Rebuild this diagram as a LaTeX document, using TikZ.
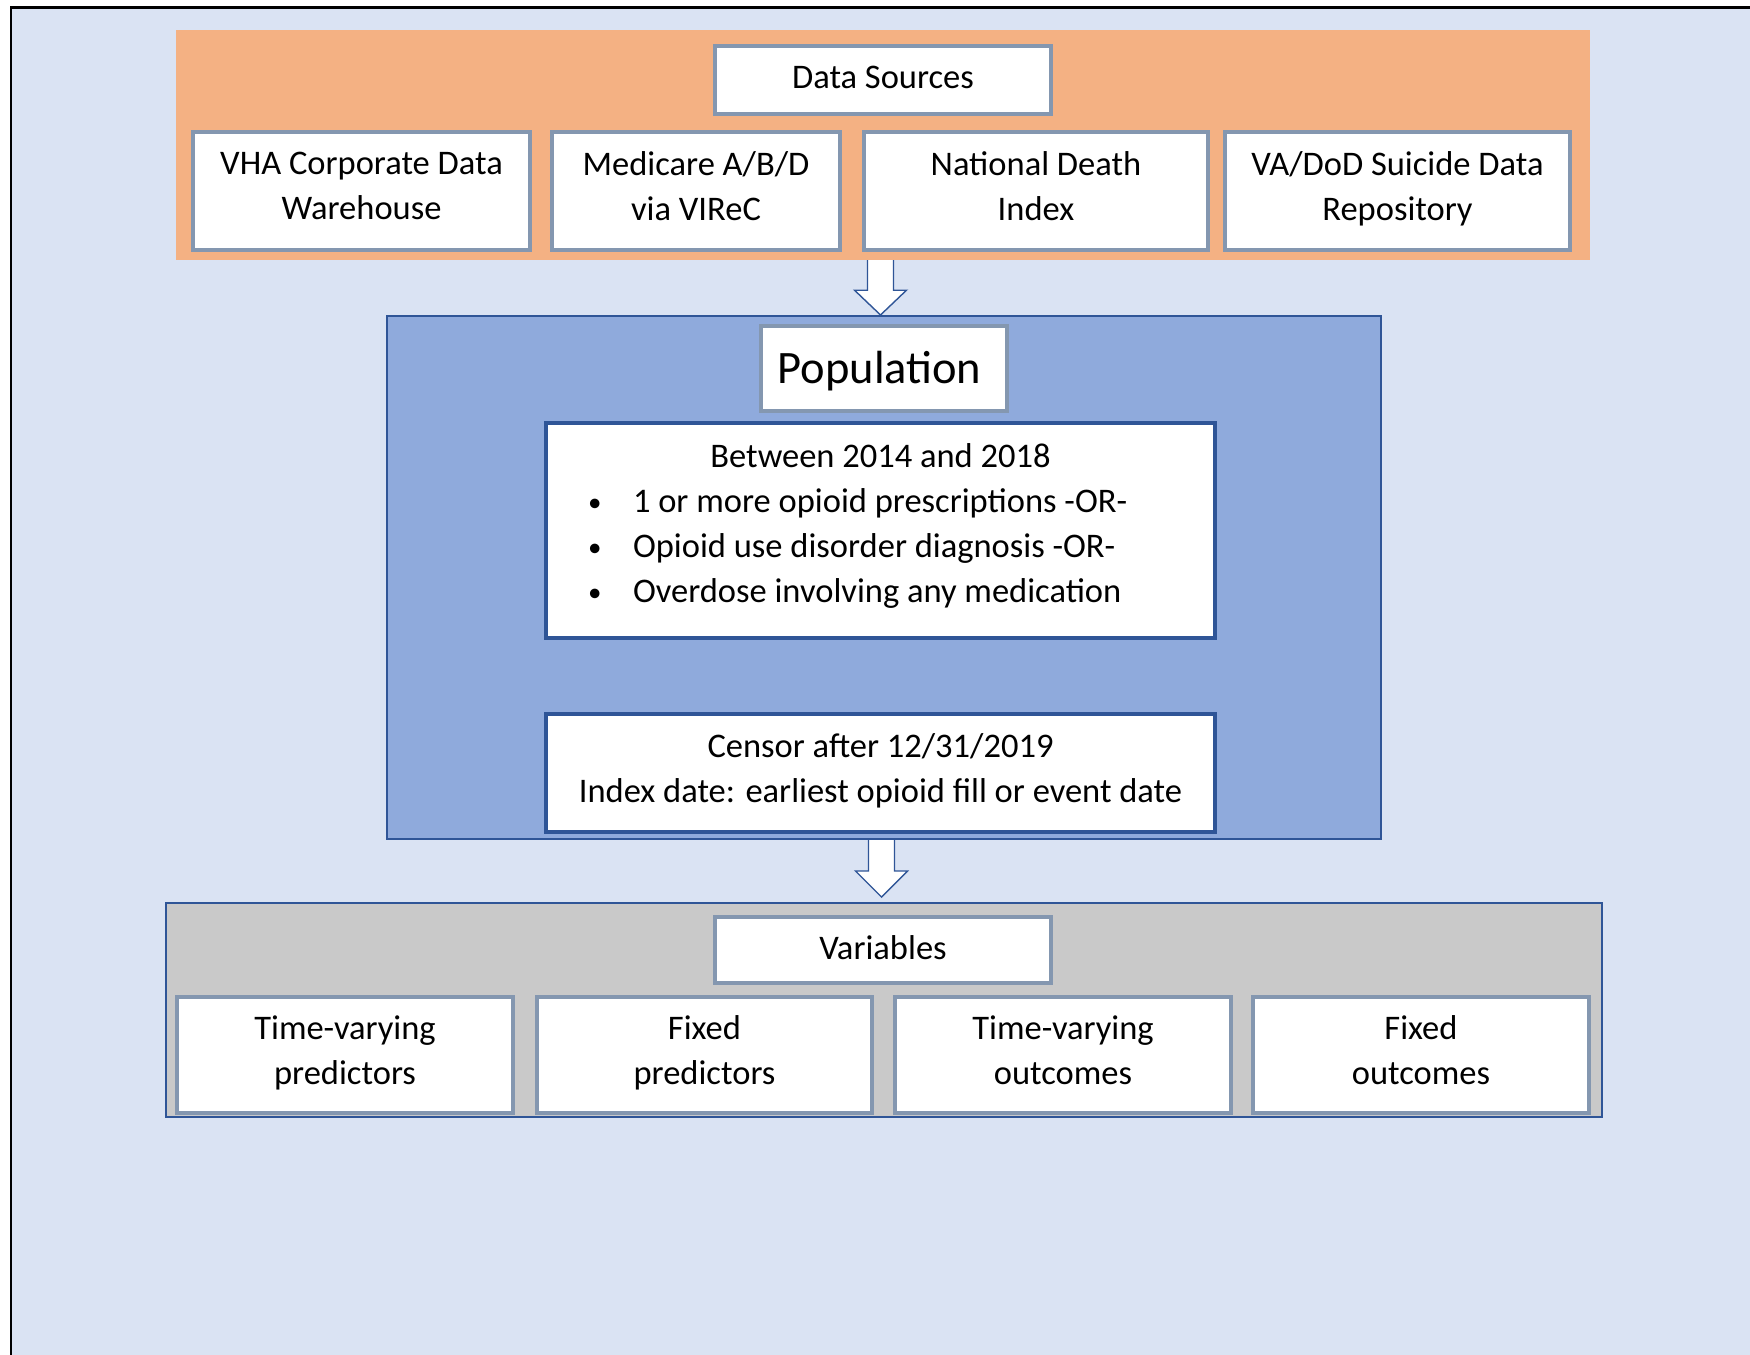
\documentclass[tikz,border=0pt]{standalone}
\usepackage{fontspec}
\setmainfont{Carlito}
\usetikzlibrary{calc}
\definecolor{bgblue}{HTML}{DAE3F3}
\definecolor{orangefill}{HTML}{F4B183}
\definecolor{boxline}{HTML}{8497B0}
\definecolor{popfill}{HTML}{8FAADC}
\definecolor{darkblue}{HTML}{2F5597}
\definecolor{grayfill}{HTML}{C9C9C9}
\newcommand{\mybullet}{\hspace*{42pt}\makebox[45pt][l]{\fontsize{27}{27}\selectfont\raisebox{1.5pt}{\textbullet}}}
\newcommand{\topstrut}{\rule{0pt}{39pt}}
\newcommand{\botstrut}{\rule[-10pt]{0pt}{10pt}}
\begin{document}
\begin{tikzpicture}[x=1pt,y=-1pt,
  txtfont/.style={font=\fontsize{34.5}{45}\selectfont},
  lightbox/.style={draw=boxline, line width=3.2pt, fill=white, align=center, inner sep=0pt, txtfont},
  darkbox/.style={draw=darkblue, line width=3.2pt, fill=white, align=center, inner sep=0pt, txtfont},
  oneline/.style={execute at begin node=\strut, execute at end node=\strut},
  twoline/.style={execute at begin node=\topstrut, execute at end node=\botstrut},
  panel/.style={inner sep=0pt},
  blockarrow/.style={draw=darkblue, fill=white, line width=1.4pt, line join=miter}
]
\useasboundingbox (0,0) rectangle (1750,1354);
\clip (0,0) rectangle (1750,1354);
\fill[white] (0,0) rectangle (1750,1354);
\draw[fill=bgblue, line width=2.6pt] (11,7.5) rectangle (1800,1420);

% Data sources panel
\node[panel, fill=orangefill, minimum width=1414, minimum height=230] (src) at (883,145) {};
\node[lightbox, oneline, minimum width=336, minimum height=68] (ds) at (883,80) {Data Sources};
\node[lightbox, twoline, minimum width=337, minimum height=118] (vha) at (361.5,191) {VHA Corporate Data\\Warehouse};
\node[lightbox, twoline, minimum width=288, minimum height=118] (med) at (696,191) {Medicare A/B/D\\via VIReC};
\node[lightbox, twoline, minimum width=344, minimum height=118] (ndi) at (1036,191) {National Death\\Index};
\node[lightbox, twoline, minimum width=345, minimum height=118] (sdr) at (1397.5,191) {VA/DoD Suicide Data\\Repository};

% Population panel
\node[panel, fill=popfill, draw=darkblue, line width=2pt, minimum width=994, minimum height=523] (pop) at (884,577.5) {};
\node[lightbox, minimum width=246, minimum height=85, font=\fontsize{46.5}{56}\selectfont,
  text height=39pt, text depth=10pt] (poptitle) at (884,368.5) {\hspace*{-9pt}Population};
\node[darkbox, minimum width=669, minimum height=215] (crit) at (880.5,530.5) {};
\node[txtfont, text width=669, align=left, inner sep=0pt] (crittxt) at ($(crit.center)+(0,-4.5)$)
  {\spaceskip=0pt\xspaceskip=0pt\hfill Between 2014 and 2018\hfill\mbox{}\\
   \mybullet 1 or more opioid prescriptions -OR-\\
   \mybullet Opioid use disorder diagnosis -OR-\\
   \mybullet Overdose involving any medication};
\node[darkbox, twoline, minimum width=669, minimum height=118] (cens) at (880.5,773) {Censor after 12/31/2019\\Index date: earliest opioid fill or event date};

% Variables panel
\node[panel, fill=grayfill, draw=darkblue, line width=2.4pt, minimum width=1436, minimum height=214] (var) at (884,1010) {};
\node[lightbox, oneline, minimum width=336, minimum height=66] (vt) at (883,950) {Variables};
\node[lightbox, twoline, minimum width=336, minimum height=116] (tvp) at (345,1055) {Time-varying\\predictors};
\node[lightbox, twoline, minimum width=335, minimum height=116] (fp) at (704.5,1055) {Fixed\\predictors};
\node[lightbox, twoline, minimum width=336, minimum height=116] (tvo) at (1063,1055) {Time-varying\\outcomes};
\node[lightbox, twoline, minimum width=336, minimum height=116] (fo) at (1421,1055) {Fixed\\outcomes};

% Block arrows
\coordinate (a1top) at ($(src.south)+(-2.5,0)$);
\coordinate (a1tip) at (a1top |- pop.north);
\draw[blockarrow] ($(a1top)+(-13,0)$) -- ($(a1top)+(-13,30)$) -- ($(a1top)+(-26,30)$)
  -- (a1tip) -- ($(a1top)+(26,30)$) -- ($(a1top)+(13,30)$) -- ($(a1top)+(13,0)$);
\coordinate (a2top) at ($(pop.south)+(-2.5,0)$);
\coordinate (a2tip) at ($(a2top)+(0,57)$);
\draw[blockarrow] ($(a2top)+(-13,0)$) -- ($(a2top)+(-13,31)$) -- ($(a2top)+(-26,31)$)
  -- (a2tip) -- ($(a2top)+(26,31)$) -- ($(a2top)+(13,31)$) -- ($(a2top)+(13,0)$);
\end{tikzpicture}
\end{document}
